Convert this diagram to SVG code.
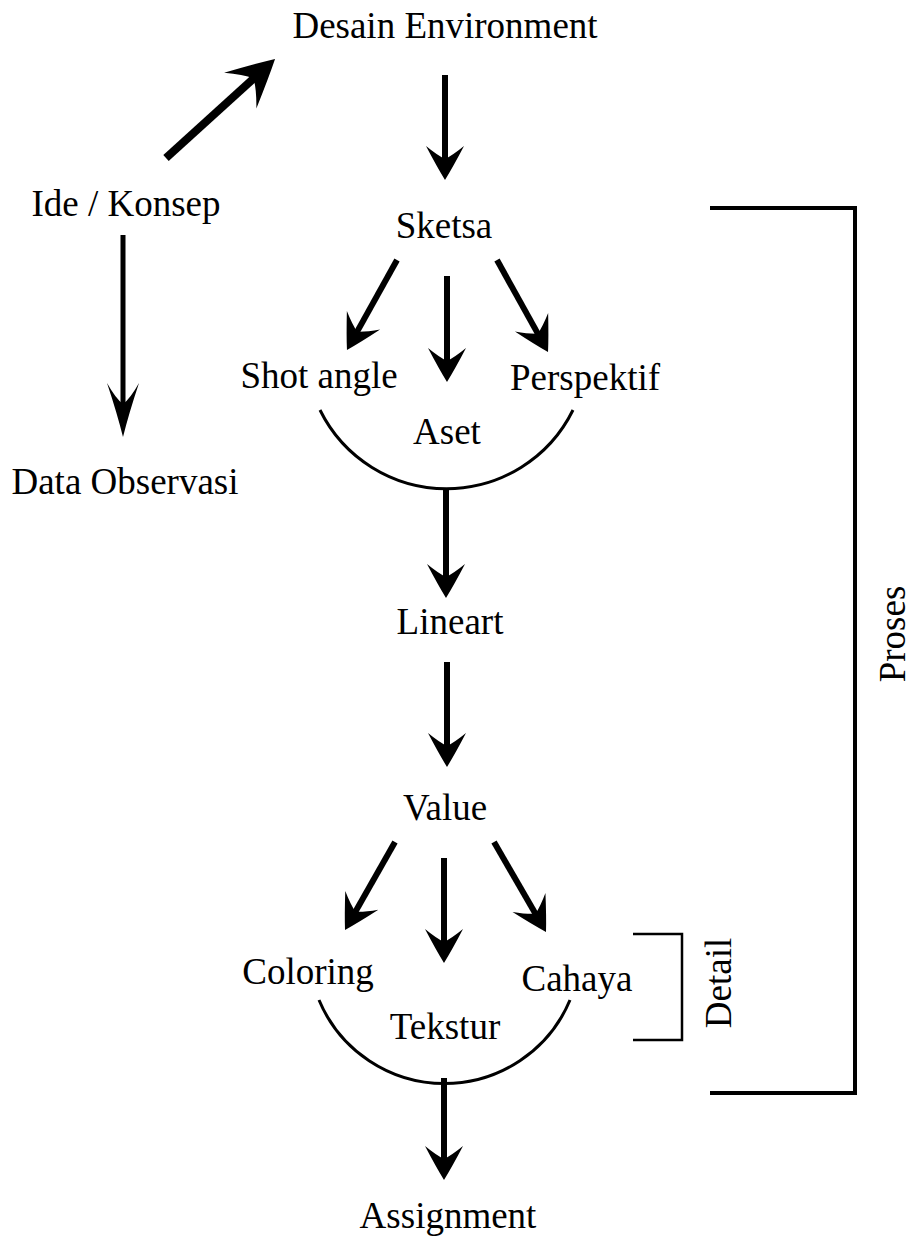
<svg xmlns="http://www.w3.org/2000/svg" width="914" height="1238" viewBox="0 0 914 1238">
<style>
text{font-family:"Liberation Serif","Times New Roman",serif;font-size:37px;fill:#000;text-anchor:middle}
.ln{stroke:#000;stroke-width:6;fill:none}
.arc{stroke:#000;stroke-width:3;fill:none}
.br{stroke:#000;fill:none}
</style>
<defs>
<marker id="ah" markerUnits="userSpaceOnUse" viewBox="-38 -21 42 42" markerWidth="42" markerHeight="42" refX="-19" refY="0" orient="auto">
<path d="M0,0 Q-13,-8 -34,-19 Q-25,-8 -21,0 Q-25,8 -34,19 Q-13,8 0,0Z" fill="#000"/>
</marker>
<marker id="ahL" markerUnits="userSpaceOnUse" viewBox="-52 -27 56 54" markerWidth="56" markerHeight="54" refX="-26" refY="0" orient="auto">
<path d="M0,0 Q-18,-10 -47,-24 Q-34,-10 -29,0 Q-34,10 -47,24 Q-18,10 0,0Z" fill="#000"/>
</marker>
<marker id="ahN" markerUnits="userSpaceOnUse" viewBox="-58 -18 62 36" markerWidth="62" markerHeight="36" refX="-30" refY="0" orient="auto">
<path d="M0,0 Q-24,-6 -54,-16 Q-38,-7 -33,0 Q-38,7 -54,16 Q-24,6 0,0Z" fill="#000"/>
</marker>
</defs>
<rect width="914" height="1238" fill="#fff"/>
<g id="connectors">
<line class="ln" x1="445" y1="75" x2="445" y2="161" marker-end="url(#ah)"/>
<line class="ln" x1="166" y1="158" x2="255.8" y2="76.5" style="stroke-width:8" marker-end="url(#ahL)"/>
<line class="ln" x1="123" y1="235" x2="123" y2="407" style="stroke-width:5" marker-end="url(#ahN)"/>
<line class="ln" x1="397" y1="260" x2="356.2" y2="333.4" marker-end="url(#ah)"/>
<line class="ln" x1="447" y1="276" x2="447" y2="363" marker-end="url(#ah)"/>
<line class="ln" x1="497" y1="260" x2="538.8" y2="335.4" marker-end="url(#ah)"/>
<path class="arc" d="M320,410 A141,141 0 0 0 573,410"/>
<line class="ln" x1="446" y1="489" x2="446" y2="579" marker-end="url(#ah)"/>
<line class="ln" x1="447" y1="662" x2="447" y2="748" marker-end="url(#ah)"/>
<line class="ln" x1="395" y1="842" x2="354.4" y2="913.5" marker-end="url(#ah)"/>
<line class="ln" x1="444" y1="858" x2="444" y2="944" marker-end="url(#ah)"/>
<line class="ln" x1="494" y1="842" x2="536.5" y2="915.5" marker-end="url(#ah)"/>
<path class="arc" d="M319,1000 A136,136 0 0 0 570,1000"/>
<line class="ln" x1="444" y1="1078" x2="444" y2="1161" marker-end="url(#ah)"/>
</g>
<g id="node-desain"><text x="445" y="38">Desain Environment</text></g>
<g id="node-ide"><text x="126" y="216">Ide / Konsep</text></g>
<g id="node-data"><text x="125" y="494">Data Observasi</text></g>
<g id="node-sketsa"><text x="444" y="238">Sketsa</text></g>
<g id="node-shot"><text x="319" y="388">Shot angle</text></g>
<g id="node-perspektif"><text x="585" y="390">Perspektif</text></g>
<g id="node-aset"><text x="447" y="444">Aset</text></g>
<g id="node-lineart"><text x="450" y="634">Lineart</text></g>
<g id="node-value"><text x="445" y="820">Value</text></g>
<g id="node-coloring"><text x="308" y="984">Coloring</text></g>
<g id="node-cahaya"><text x="577" y="991">Cahaya</text></g>
<g id="node-tekstur"><text x="445" y="1039">Tekstur</text></g>
<g id="node-assignment"><text x="448" y="1228">Assignment</text></g>
<g id="bracket-detail">
<path class="br" style="stroke-width:2.5" d="M633,934 H682 V1040 H633"/>
<text transform="translate(731,983) rotate(-90)">Detail</text>
</g>
<g id="bracket-proses">
<path class="br" style="stroke-width:4" d="M710,208 H855 V1093 H710"/>
<text transform="translate(905,634) rotate(-90)">Proses</text>
</g>
</svg>
